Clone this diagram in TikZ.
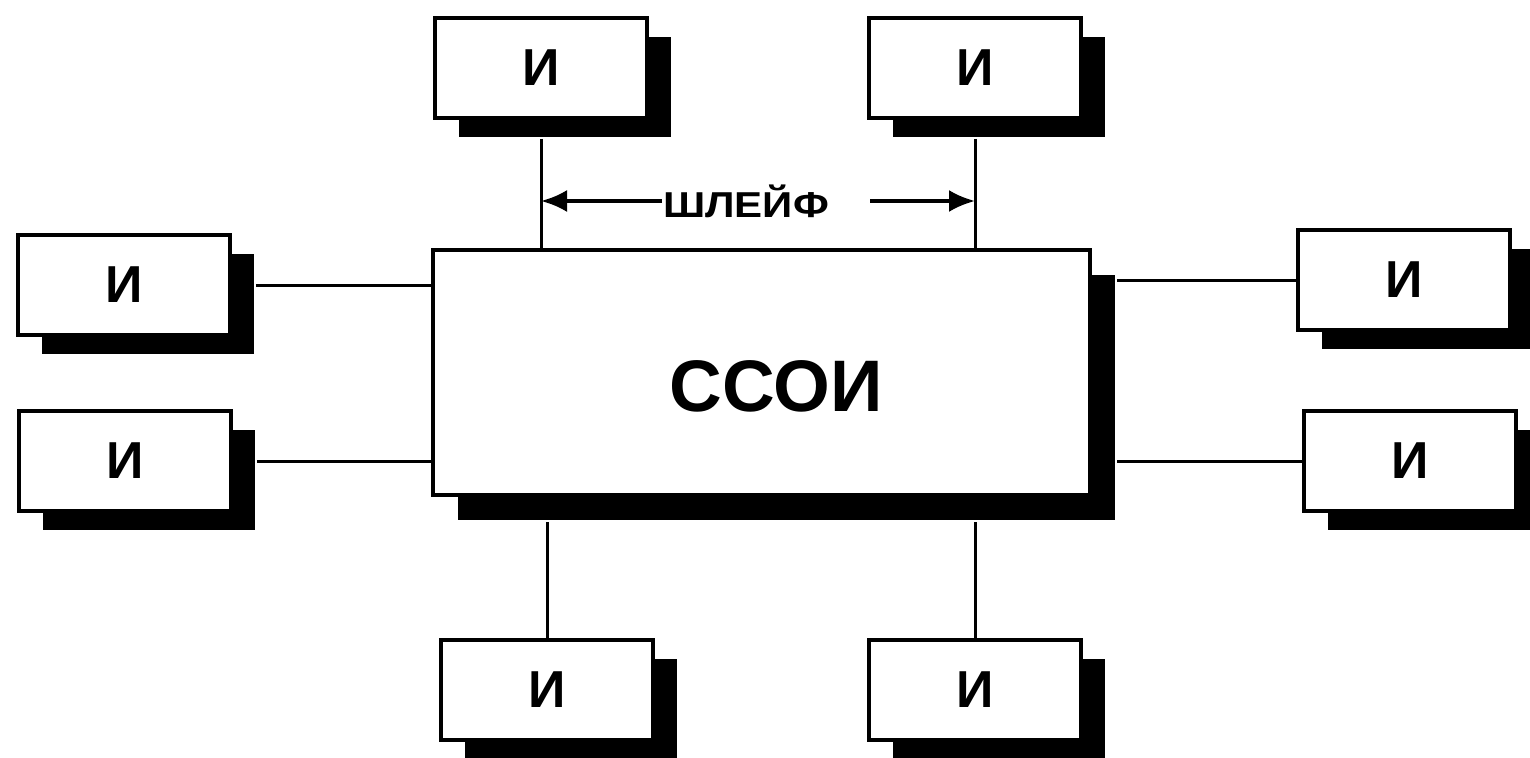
\documentclass[tikz,border=0pt]{standalone}
\usepackage{fontspec}
\setmainfont{Liberation Sans}
\usetikzlibrary{shadows,arrows.meta,calc}
\tikzset{
  ibox/.style={draw=black, line width=3.5pt, fill=white, minimum width=212pt, minimum height=100pt,
    inner sep=0pt, font=\fontsize{52}{52}\selectfont\bfseries,
    general shadow={fill=black, shadow xshift=24pt, shadow yshift=-19pt}},
  mainbox/.style={draw=black, line width=3.5pt, fill=white, minimum width=657pt, minimum height=245pt,
    inner sep=0pt,
    general shadow={fill=black, shadow xshift=25pt, shadow yshift=-25pt}},
  conn/.style={line width=3pt, black},
  arr/.style={line width=3.5pt, -{Latex[length=26pt,width=22pt]}}
}
\begin{document}
\begin{tikzpicture}[x=1pt,y=-1pt]
\useasboundingbox (0,0) rectangle (1530,757);
\node[mainbox] (main) at (761.5,372.5) {};
\node[ibox] (tl) at (541,68) {И};
\node[ibox] (tr) at (975,68) {И};
\node[ibox] (l1) at (124,285) {И};
\node[ibox] (l2) at (125,461) {И};
\node[ibox] (r1) at (1404,280) {И};
\node[ibox] (r2) at (1410,461) {И};
\node[ibox] (bl) at (547,690) {И};
\node[ibox] (br) at (975,690) {И};
\node[font=\fontsize{73}{73}\selectfont\bfseries] (ttl) at (776,386) {ССОИ};
% connectors
\draw[conn] ([yshift=-19pt]tl.south) -- (tl.south |- main.north);
\draw[conn] ([yshift=-19pt]tr.south) -- (tr.south |- main.north);
\draw[conn] ([xshift=24pt]l1.east) -- (l1.east -| main.west);
\draw[conn] ([xshift=24pt]l2.east) -- (l2.east -| main.west);
\draw[conn] (r1.west) -- ([xshift=25pt]r1.west -| main.east);
\draw[conn] (r2.west) -- ([xshift=25pt]r2.west -| main.east);
\draw[conn] (bl.north) -- ([yshift=-25pt]bl.north |- main.south);
\draw[conn] (br.north) -- ([yshift=-25pt]br.north |- main.south);
% loop label
\node[font=\fontsize{40}{40}\selectfont\bfseries, inner sep=1pt] (lbl) at (746,201) {\scalebox{1.05}[0.9]{ШЛЕЙФ}};
\draw[arr] (lbl.west) -- (lbl.west -| tl.south);
\draw[arr] ([xshift=40pt]lbl.east) -- (lbl.east -| tr.south);
\end{tikzpicture}
\end{document}
